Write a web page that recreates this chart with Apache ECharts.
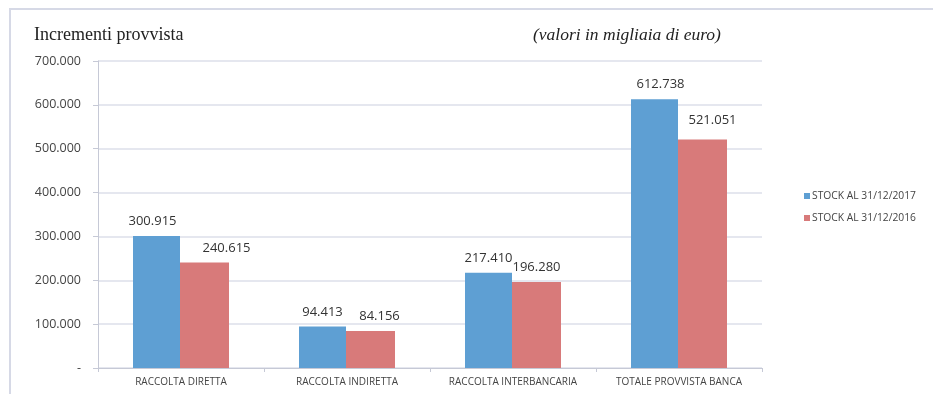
<!DOCTYPE html>
<html>
<head>
<meta charset="utf-8">
<script src="https://cdn.jsdelivr.net/npm/echarts@6/dist/echarts.min.js"></script>
<style>
  html, body { margin: 0; padding: 0; background: #fff; }
  #frame {
    position: absolute; left: 9px; top: 8px; width: 940px; height: 400px;
    border-left: 2px solid #d6d9e6; border-top: 2px solid #d6d9e6;
  }
  #chart { position: absolute; left: 0; top: 0; width: 933px; height: 394px; }
</style>
</head>
<body>
<div id="frame"></div>
<div id="chart"></div>
<script>
var categories = ['RACCOLTA DIRETTA', 'RACCOLTA INDIRETTA', 'RACCOLTA INTERBANCARIA', 'TOTALE PROVVISTA BANCA'];
var stock2017 = [300915, 94413, 217410, 612738];
var stock2016 = [240615, 84156, 196280, 521051];
var seriesNames = ['STOCK AL 31/12/2017', 'STOCK AL 31/12/2016'];

function fmt (v) {
  if (v === 0) return '-';
  return String(v).replace(/\B(?=(\d{3})+(?!\d))/g, '.');
}

// labels were nudged by hand in the original (excel-style)
var nudge2017 = [[-4, 0], [0, 0], [0, 0], [6, 0]];
var nudge2016 = [[22, 0], [9, 0], [0, 0], [10, -5]];

function withLabels (values, nudges) {
  return values.map(function (v, i) {
    return { value: v, label: { offset: nudges[i] } };
  });
}

var myChart = echarts.init(document.getElementById('chart'));
var labelStyle = {
  show: true, position: 'top', distance: 8, fontSize: 13, color: '#333', fontFamily: 'Open Sans',
  formatter: function (p) { return fmt(p.value); }
};
var option = {
  animation: false,
  title: [
    {
      text: 'Incrementi provvista',
      left: 29, top: 21,
      textStyle: { fontFamily: 'Liberation Serif', fontWeight: 'normal', fontSize: 18, color: '#222' }
    },
    {
      text: '(valori in migliaia di euro)',
      left: 528, top: 21,
      textStyle: { fontFamily: 'Liberation Serif', fontStyle: 'italic', fontWeight: 'normal', fontSize: 17.5, color: '#222' }
    }
  ],
  legend: {
    orient: 'vertical',
    left: 799, top: 186,
    itemWidth: 6, itemHeight: 6, itemGap: 12,
    icon: 'rect',
    textStyle: { fontSize: 10.3, color: '#444', fontFamily: 'Open Sans', padding: [0, 0, 0, -3] },
    data: seriesNames
  },
  grid: { left: 98, right: 171, top: 61, bottom: 26 },
  xAxis: {
    type: 'category',
    data: categories,
    axisLine: { lineStyle: { color: '#c6c9d6' } },
    axisTick: { show: true, length: 4, lineStyle: { color: '#c6c9d6' } },
    axisLabel: { interval: 0, fontSize: 10, color: '#444', margin: 9, fontFamily: 'Open Sans' }
  },
  yAxis: {
    type: 'value',
    min: 0, max: 700000, interval: 100000,
    axisLine: { show: true, lineStyle: { color: '#c6c9d6' } },
    axisTick: { show: true, length: 5, lineStyle: { color: '#c6c9d6' } },
    splitLine: { lineStyle: { color: '#dcdfea', width: 1.5 } },
    axisLabel: { fontSize: 12.5, color: '#444', margin: 17, fontFamily: 'Open Sans', formatter: fmt }
  },
  series: [
    {
      name: seriesNames[0],
      type: 'bar',
      data: withLabels(stock2017, nudge2017),
      barWidth: 47,
      barGap: '0%',
      itemStyle: { color: '#5e9fd3' },
      label: labelStyle
    },
    {
      name: seriesNames[1],
      type: 'bar',
      data: withLabels(stock2016, nudge2016),
      barWidth: 49,
      itemStyle: { color: '#d87a7a' },
      label: labelStyle
    }
  ]
};
myChart.setOption(option);
</script>
</body>
</html>
